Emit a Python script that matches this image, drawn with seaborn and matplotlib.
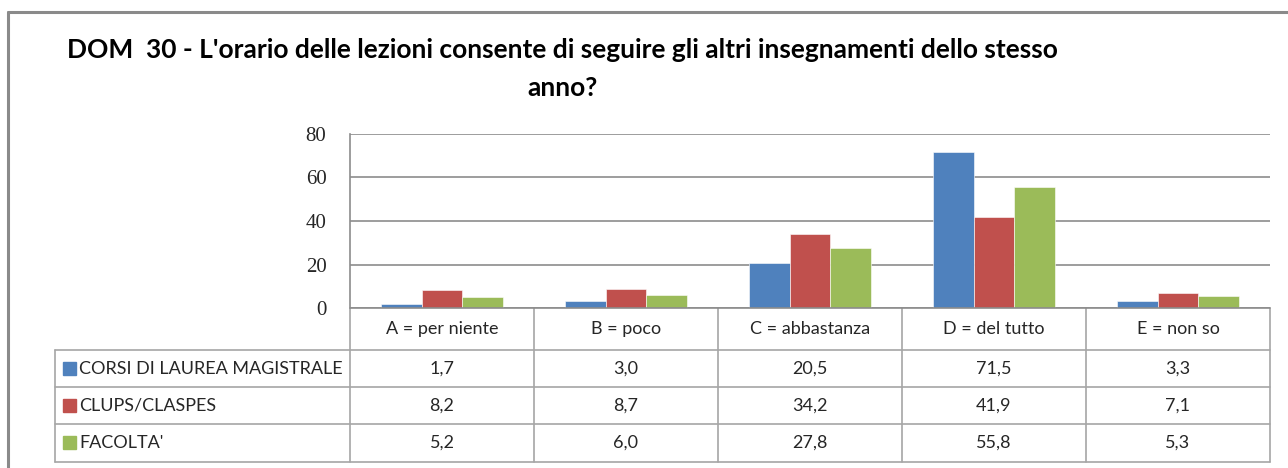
import numpy as np
import pandas as pd
import seaborn as sns
import matplotlib.pyplot as plt
from matplotlib.lines import Line2D
from matplotlib.patches import Rectangle

# data
categories = ["A = per niente", "B = poco", "C = abbastanza", "D = del tutto", "E = non so"]
series = ["CORSI DI LAUREA MAGISTRALE", "CLUPS/CLASPES", "FACOLTA'"]
corsi = [1.7, 3.0, 20.5, 71.5, 3.3]
clups = [8.2, 8.7, 34.2, 41.9, 7.1]
facolta = [5.2, 6.0, 27.8, 55.8, 5.3]
colors = ["#4F81BD", "#C0504D", "#9BBB59"]
yticks = [0, 20, 40, 60, 80]

df = pd.DataFrame({
    "categoria": categories * 3,
    "serie": [s for s in series for _ in categories],
    "valore": corsi + clups + facolta,
})

sns.set_theme(style="white")
plt.rcParams["font.family"] = ["Lato", "DejaVu Sans"]

W, H = 1288, 468
fig = plt.figure(figsize=(W / 100, H / 100), dpi=100)


def fx(x):
    return x / W


def fy(y):
    return 1 - y / H


ax = fig.add_axes([fx(350), fy(308), fx(920), 174 / H])
sns.barplot(data=df, x="categoria", y="valore", hue="serie", palette=colors,
            saturation=1, width=0.66, ax=ax, legend=False,
            edgecolor="white", linewidth=0.4)
ax.set_ylim(0, 80)
ax.set_xlim(-0.5, len(categories) - 0.5)
ax.set_yticks(yticks)
ax.set_yticklabels([str(t) for t in yticks], family=["Liberation Serif", "DejaVu Serif"],
                   fontsize=15)
ax.tick_params(axis="y", length=0, pad=17)
ax.set_xticks([])
ax.set_xlabel("")
ax.set_ylabel("")
ax.yaxis.grid(True, color="#8c8c8c", lw=1.2)
ax.set_axisbelow(True)
for s in ["top", "right", "bottom"]:
    ax.spines[s].set_visible(False)
ax.spines["left"].set_color("#8c8c8c")
ax.spines["left"].set_linewidth(1.2)

# outer frame
fig.add_artist(Line2D([fx(8), 1], [fy(12), fy(12)], color="#8a8a8a", lw=2.2))
fig.add_artist(Line2D([fx(8), fx(8)], [fy(12), 0], color="#8a8a8a", lw=2.2))

# title
fig.text(fx(562), fy(50), "DOM  30 - L'orario delle lezioni consente di seguire gli altri insegnamenti dello stesso",
         ha="center", va="center", fontsize=19, fontweight="bold", color="black")
fig.text(fx(562), fy(88), "anno?", ha="center", va="center", fontsize=19,
         fontweight="bold", color="black")

# data table below the axis
fig.canvas.draw()
col_edges = [ax.transData.transform((i - 0.5, 0))[0] for i in range(len(categories) + 1)]
x_left, x_right = col_edges[0], col_edges[-1]
tab_left = 55
row_tops = [308, 350, 387, 424, 462]
lc = "#a6a6a6"

for xe in col_edges:
    fig.add_artist(Line2D([fx(xe), fx(xe)], [fy(308), fy(462)], color=lc, lw=1.2))
fig.add_artist(Line2D([fx(x_left), fx(x_right)], [fy(308), fy(308)], color="#8c8c8c", lw=1.2))
for yr in row_tops[1:]:
    fig.add_artist(Line2D([fx(tab_left), fx(x_right)], [fy(yr), fy(yr)], color=lc, lw=1.2))
fig.add_artist(Line2D([fx(tab_left), fx(tab_left)], [fy(350), fy(462)], color=lc, lw=1.2))

for i, cat in enumerate(categories):
    xc = (col_edges[i] + col_edges[i + 1]) / 2
    fig.text(fx(xc), fy(329), cat, ha="center", va="center", fontsize=13)

rows = [corsi, clups, facolta]
for r, (name, vals, col) in enumerate(zip(series, rows, colors)):
    yc = (row_tops[r + 1] + row_tops[r + 2]) / 2
    fig.add_artist(Rectangle((fx(63), fy(yc + 6)), 13 / W, 13 / H, color=col,
                             transform=fig.transFigure))
    fig.text(fx(79), fy(yc), name, ha="left", va="center", fontsize=13)
    for i, v in enumerate(vals):
        xc = (col_edges[i] + col_edges[i + 1]) / 2
        fig.text(fx(xc), fy(yc), f"{v:.1f}".replace(".", ","), ha="center",
                 va="center", fontsize=13)

fig.savefig("out.png", dpi=100)
